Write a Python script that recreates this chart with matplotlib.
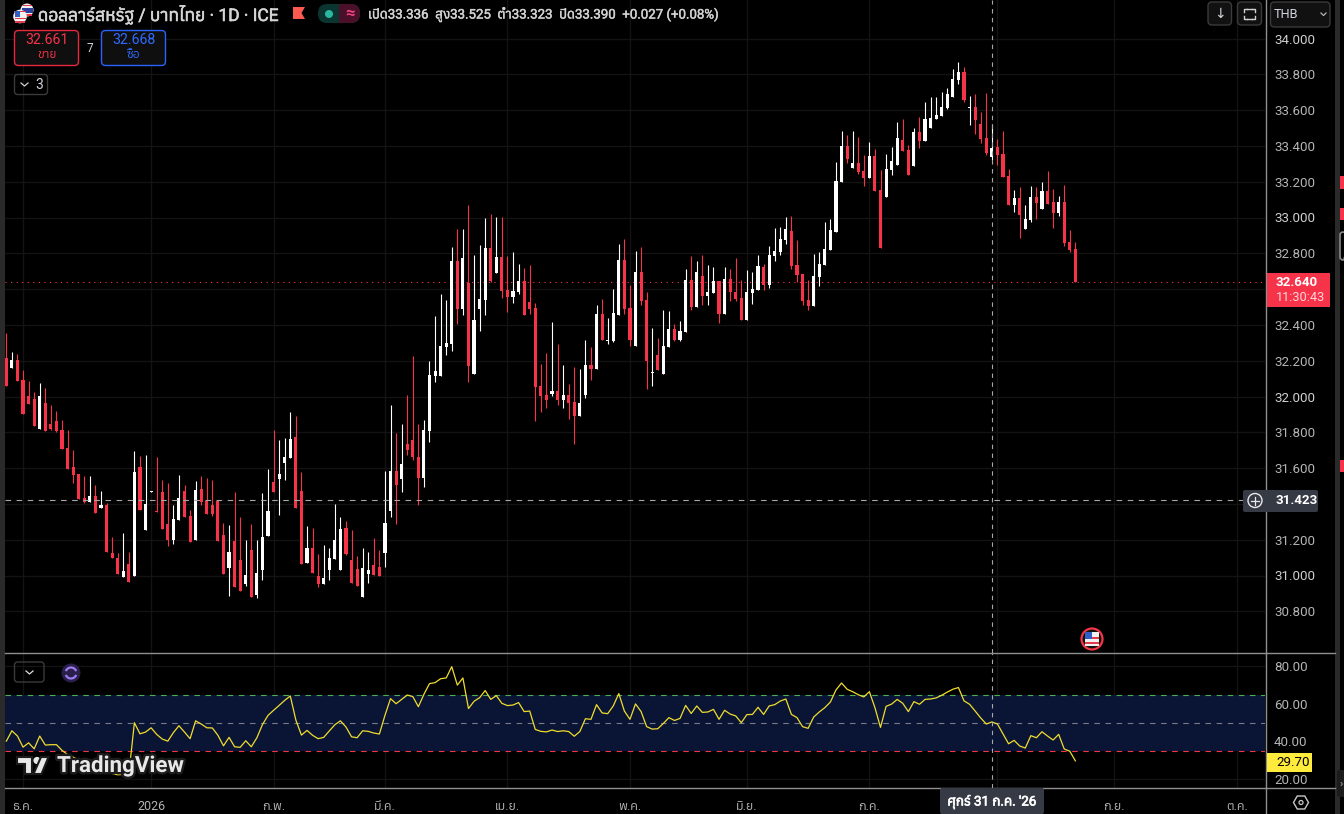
# USD/THB daily chart with RSI pane
import numpy as np
import matplotlib
matplotlib.use("Agg")
import matplotlib.pyplot as plt
import matplotlib.patches as patches
import matplotlib.patheffects as pe
from matplotlib import font_manager

# DATA
opens = [32.214,32.158,32.203,32.091,32.002,31.985,31.817,31.963,31.845,31.862,
         31.812,31.711,31.605,31.566,31.432,31.410,31.443,31.376,31.393,31.125,
         31.097,30.991,31.063,30.996,31.605,31.253,31.466,31.359,31.466,31.287,
         31.197,31.309,31.471,31.331,31.197,31.482,31.415,31.393,31.415,31.225,
         31.041,31.192,31.086,30.952,31.141,30.890,31.030,31.220,31.521,31.538,
         31.627,31.655,31.772,31.471,31.069,31.152,30.996,30.951,31.029,31.091,
         31.029,31.264,31.085,31.035,30.879,31.007,31.057,31.046,31.124,31.359,
         31.582,31.538,31.733,31.756,31.661,31.543,31.806,32.113,32.113,32.275,
         32.292,32.756,32.487,32.633,32.124,32.487,32.538,32.828,32.689,32.778,
         32.594,32.555,32.582,32.644,32.527,32.493,32.057,32.007,32.013,32.029,
         31.979,32.007,31.968,31.890,32.007,32.175,32.152,32.460,32.309,32.309,
         32.454,32.761,32.493,32.281,32.694,32.538,32.130,32.230,32.124,32.275,
         32.376,32.314,32.359,32.649,32.499,32.672,32.560,32.577,32.644,32.460,
         32.655,32.582,32.549,32.426,32.577,32.594,32.722,32.622,32.784,32.806,
         32.873,32.923,32.733,32.683,32.538,32.504,32.666,32.733,32.817,32.918,
         33.197,33.398,33.275,33.303,33.258,33.219,33.342,33.152,33.113,33.264,
         33.292,33.432,33.376,33.286,33.476,33.426,33.499,33.549,33.566,33.610,
         33.672,33.767,33.812,33.610,33.616,33.521,33.443,33.336,33.393,33.353,
         33.230,33.068,33.108,32.934,32.985,33.113,33.046,33.147,33.085,33.024,
         33.085,32.862,32.823]
highs = [32.354,32.248,32.236,32.147,32.086,32.024,32.074,32.047,31.952,31.918,
         31.868,31.812,31.700,31.566,31.555,31.555,31.505,31.471,31.404,31.214,
         31.125,31.236,31.130,31.695,31.667,31.672,31.471,31.661,31.533,31.516,
         31.393,31.560,31.505,31.365,31.527,31.555,31.544,31.533,31.421,31.292,
         31.281,31.466,31.326,31.197,31.287,31.197,31.460,31.594,31.812,31.756,
         31.767,31.912,31.890,31.577,31.275,31.264,31.119,31.169,31.152,31.398,
         31.326,31.303,31.253,31.108,31.152,31.130,31.208,31.141,31.582,31.951,
         31.795,31.845,32.007,32.225,31.845,31.867,32.197,32.448,32.571,32.538,
         32.834,32.934,32.934,33.068,32.789,32.845,32.996,33.018,33.001,33.001,
         32.784,32.806,32.739,32.717,32.733,32.521,32.180,32.242,32.415,32.292,
         32.175,32.068,32.163,32.152,32.314,32.275,32.510,32.543,32.437,32.599,
         32.851,32.879,32.622,32.812,32.834,32.582,32.381,32.325,32.482,32.476,
         32.404,32.420,32.711,32.784,32.756,32.789,32.733,32.722,32.644,32.722,
         32.711,32.772,32.649,32.705,32.694,32.789,32.739,32.839,32.940,32.946,
         33.001,33.007,32.873,32.683,32.649,32.795,32.806,32.974,32.990,33.309,
         33.482,33.460,33.482,33.448,33.348,33.420,33.381,33.264,33.353,33.393,
         33.532,33.549,33.404,33.499,33.560,33.644,33.672,33.672,33.700,33.722,
         33.828,33.867,33.839,33.677,33.689,33.588,33.694,33.525,33.437,33.482,
         33.270,33.152,33.169,33.068,33.175,33.169,33.197,33.258,33.158,33.119,
         33.180,32.929,32.862]
lows = [32.058,32.158,32.086,31.901,31.957,31.834,31.817,31.806,31.812,31.801,
        31.706,31.594,31.516,31.426,31.404,31.410,31.348,31.376,31.130,31.097,
        31.007,30.991,30.963,30.996,31.365,31.253,31.466,31.354,31.259,31.164,
        31.175,31.309,31.326,31.186,31.197,31.393,31.343,31.331,31.192,31.007,
        30.885,30.935,30.912,30.940,30.879,30.873,30.974,31.220,31.465,31.337,
        31.532,31.655,31.376,31.063,31.069,31.013,30.934,30.951,30.973,31.091,
        31.029,31.113,30.957,30.940,30.879,30.957,31.001,30.996,31.046,31.326,
        31.286,31.465,31.672,31.644,31.393,31.493,31.744,32.080,32.113,32.230,
        32.253,32.404,32.454,32.080,32.124,32.365,32.454,32.638,32.689,32.549,
        32.471,32.521,32.571,32.454,32.460,31.862,31.912,31.934,32.001,31.951,
        31.934,31.873,31.733,31.890,31.990,32.091,32.152,32.314,32.292,32.303,
        32.454,32.460,32.281,32.281,32.510,32.041,32.057,32.147,32.124,32.275,
        32.309,32.309,32.359,32.482,32.499,32.510,32.510,32.577,32.409,32.460,
        32.532,32.532,32.426,32.426,32.515,32.594,32.594,32.605,32.756,32.789,
        32.851,32.711,32.638,32.510,32.482,32.504,32.616,32.733,32.817,32.918,
        33.197,33.303,33.275,33.242,33.175,33.219,33.147,32.828,33.113,33.236,
        33.292,33.370,33.236,33.286,33.387,33.426,33.499,33.549,33.566,33.605,
        33.672,33.744,33.644,33.515,33.465,33.415,33.348,33.323,33.292,33.225,
        33.068,33.029,32.884,32.934,32.974,32.990,33.046,33.074,32.940,33.007,
        32.839,32.806,32.640]
closes = [32.058,32.203,32.086,31.901,31.957,31.834,32.002,31.806,31.817,31.806,
          31.706,31.594,31.560,31.426,31.410,31.443,31.348,31.393,31.130,31.097,
          31.007,31.024,30.963,31.577,31.365,31.398,31.471,31.354,31.259,31.197,
          31.315,31.432,31.326,31.186,31.477,31.410,31.343,31.343,31.192,31.007,
          31.130,30.935,30.912,31.002,30.879,31.013,31.214,31.359,31.465,31.566,
          31.661,31.761,31.376,31.063,31.152,31.013,30.951,30.985,31.096,31.197,
          31.258,31.119,30.957,30.940,31.041,31.029,31.001,30.996,31.292,31.582,
          31.504,31.622,31.700,31.661,31.543,31.811,32.119,32.141,32.281,32.298,
          32.756,32.487,32.772,32.169,32.426,32.543,32.828,32.644,32.778,32.588,
          32.555,32.588,32.644,32.454,32.487,32.052,32.001,31.979,32.029,31.979,
          32.007,31.962,31.890,31.962,32.175,32.152,32.460,32.314,32.314,32.465,
          32.761,32.487,32.314,32.694,32.532,32.197,32.136,32.147,32.281,32.376,
          32.314,32.365,32.649,32.499,32.694,32.560,32.582,32.644,32.460,32.655,
          32.582,32.543,32.426,32.582,32.599,32.728,32.622,32.789,32.811,32.879,
          32.934,32.728,32.677,32.532,32.504,32.672,32.739,32.823,32.929,33.203,
          33.398,33.325,33.303,33.253,33.219,33.342,33.147,32.828,33.270,33.314,
          33.443,33.370,33.236,33.476,33.426,33.549,33.555,33.571,33.616,33.689,
          33.772,33.812,33.655,33.616,33.543,33.437,33.359,33.390,33.348,33.225,
          33.068,33.108,33.013,32.990,33.113,33.080,33.147,33.074,33.024,33.085,
          32.856,32.817,32.640]
rsi = [40.2,45.7,42.9,37.0,39.3,36.1,42.9,38.1,38.3,38.3,
       35.3,33.0,31.7,30.1,30.0,30.1,28.7,29.0,25.0,23.0,
       22.3,22.5,22.5,50.0,44.1,45.0,47.3,43.8,41.3,40.2,
       44.7,48.4,45.0,41.5,51.0,49.3,47.3,47.2,43.3,37.7,
       42.2,37.2,36.9,40.4,37.2,42.0,49.0,53.9,56.6,59.2,
       61.9,64.2,51.4,43.4,45.9,43.3,41.5,42.2,45.6,48.9,
       51.0,47.7,42.5,42.0,45.7,45.4,44.5,44.0,53.9,62.8,
       60.1,62.4,64.7,63.9,58.5,65.1,70.8,71.3,73.4,73.8,
       79.8,70.0,73.8,57.5,61.4,63.3,67.1,62.4,64.4,60.3,
       59.1,59.4,60.7,55.9,56.2,46.4,45.4,45.1,46.1,45.3,
       45.7,45.3,42.8,45.3,52.1,51.8,59.6,55.2,54.8,58.9,
       65.5,56.2,51.8,60.0,55.9,47.9,46.6,46.8,49.6,52.7,
       51.2,52.3,59.2,54.9,58.9,55.5,55.7,57.1,51.8,56.6,
       54.6,53.6,50.0,54.3,54.4,58.2,54.4,58.9,59.6,61.5,
       62.6,54.4,52.7,47.9,47.0,53.0,55.7,58.0,61.0,67.4,
       71.1,67.8,66.5,64.9,63.7,66.5,58.0,47.5,58.7,59.9,
       62.4,60.3,55.9,61.2,59.8,62.4,62.6,63.2,64.6,66.3,
       67.8,68.7,61.6,59.8,56.2,52.5,49.3,50.4,49.3,44.0,
       38.8,40.6,37.6,36.5,43.1,42.0,45.2,42.9,40.8,43.8,
       36.0,34.8,29.7]
month_pos = [3, 26, 48, 68, 90, 112, 133, 155, 178, 199, 221]
# the August label sits behind the date tag in the reference
month_labels = ["ธ.ค.", "2026", "ก.พ.", "มี.ค.", "เม.ย.", "พ.ค.", "มิ.ย.", "ก.ค.", "", "ก.ย.", "ต.ค."]
price_ticks = [30.8, 31.0, 31.2, 31.4, 31.6, 31.8, 32.0, 32.2, 32.4, 32.6,
               32.8, 33.0, 33.2, 33.4, 33.6, 33.8, 34.0]
hidden_ticks = [31.4, 32.6]  # covered by the price and crosshair tags
rsi_ticks = [20, 40, 60, 80]
last_price = 32.640
cross_price = 31.423
cross_index = 177

RED = "#f7334a"
GREY = "#b4b4b4"
GRID = "#131313"
LINE = "#8f8f8f"
W, H = 1344, 814

# Thai needs a font that really has the glyphs, if there is one
thai_fonts = []
for entry in font_manager.fontManager.ttflist:
    try:
        if 0x0E01 in font_manager.get_font(entry.fname).get_charmap():
            thai_fonts.append(entry.name)
    except Exception:
        pass
plt.rcParams["font.family"] = ["Roboto"] + sorted(set(thai_fonts))[:1] + ["DejaVu Sans"]

fig = plt.figure(figsize=(W / 100, H / 100), dpi=100, facecolor="black")


def pane(left, top, right, bottom):
    return fig.add_axes([left / W, 1 - bottom / H, (right - left) / W, (bottom - top) / H], facecolor="black")


ax = pane(5, 0, 1265, 653)
ax_rsi = pane(5, 653, 1265, 788)
xmin = (5 - 6.33) / 5.568
xmax = (1265 - 6.33) / 5.568
x = np.arange(len(opens))
o = np.array(opens)
c = np.array(closes)
colors = ["white" if c[i] >= o[i] else RED for i in x]

# Candles
ax.vlines(x, lows, highs, colors=colors, linewidth=0.8, zorder=3)
ax.bar(x, np.maximum(np.abs(c - o), 0.006), bottom=np.minimum(o, c), width=0.56, color=colors, linewidth=0, zorder=4)
ax.axhline(last_price, color=RED, linestyle=(0, (1, 4)), linewidth=0.8, zorder=2)
ax.axhline(cross_price, color="#a8a8a8", linestyle=(0, (5, 5)), linewidth=0.8, zorder=5)
ax.set_xlim(xmin, xmax)
ax.set_ylim(33 - (653 - 217.5) / 179, 33 + 217.5 / 179)
ax.set_yticks(price_ticks)
ax.set_yticklabels(["" if t in hidden_ticks else f"{t:.3f}" for t in price_ticks])
ax.set_xticks(month_pos)
ax.tick_params(axis="x", labelbottom=False, length=0)

# RSI pane
ax_rsi.axhspan(35, 65, color="#0a1535", linewidth=0, zorder=1)
ax_rsi.axhline(65, color="#4caf50", linestyle=(0, (5, 5)), linewidth=0.8, zorder=2)
ax_rsi.axhline(50, color="#787b86", linestyle=(0, (5, 5)), linewidth=0.8, zorder=2)
ax_rsi.axhline(35, color="#f23645", linestyle=(0, (5, 5)), linewidth=0.8, zorder=2)
ax_rsi.plot(x, rsi, color="#f0dc2d", linewidth=0.9, zorder=3)
ax_rsi.set_xlim(xmin, xmax)
ax_rsi.set_ylim(50 - (788 - 722.7) / 1.88, 50 + (722.7 - 653) / 1.88)
ax_rsi.set_yticks(rsi_ticks)
ax_rsi.set_yticklabels([f"{t:.2f}" for t in rsi_ticks])
ax_rsi.set_xticks(month_pos)
ax_rsi.set_xticklabels(month_labels)

for a in (ax, ax_rsi):
    for s in a.spines.values():
        s.set_visible(False)
    a.yaxis.tick_right()
    a.grid(True, color=GRID, linewidth=1, zorder=0)
    a.set_axisbelow(True)
    a.tick_params(axis="y", length=0, pad=6.5, labelcolor=GREY, labelsize=9.6)
    a.axvline(cross_index, color="#a8a8a8", linestyle=(0, (4, 4)), linewidth=0.8, zorder=5)
ax_rsi.tick_params(axis="x", length=0, pad=9, labelcolor=GREY, labelsize=9)
for t, label in zip(price_ticks, ax.get_yticklabels()):
    if t == int(t):
        label.set_color("#cfcfcf")

# Overlay in screen pixels for the platform chrome
ui = fig.add_axes([0, 0, 1, 1], facecolor="none", zorder=10)
ui.set_xlim(0, W)
ui.set_ylim(H, 0)
ui.axis("off")


def rect(x0, y0, x1, y1, face="none", edge="none", lw=1.0, round_px=0, z=2):
    if round_px:
        p = patches.FancyBboxPatch((x0 + round_px, y0 + round_px), x1 - x0 - 2 * round_px, y1 - y0 - 2 * round_px,
                                   boxstyle=f"round,pad={round_px},rounding_size={round_px}",
                                   facecolor=face, edgecolor=edge, linewidth=lw, zorder=z)
    else:
        p = patches.Rectangle((x0, y0), x1 - x0, y1 - y0, facecolor=face, edgecolor=edge, linewidth=lw, zorder=z)
    ui.add_patch(p)


def txt(px, py, s, size=9, color="#d1d4dc", ha="left", weight="normal", **kw):
    return ui.text(px, py, s, fontsize=size, color=color, ha=ha, va="center", weight=weight, zorder=6, **kw)


def circle(px, py, r, face, edge="none", lw=1.0, z=3):
    ui.add_patch(patches.Circle((px, py), r, facecolor=face, edgecolor=edge, linewidth=lw, zorder=z))


# Frame
rect(0, 0, 5, H, face="#2a2a2a")
rect(1335, 0, 1340, H, face="#2a2a2a")
ui.plot([5, 1335], [652.8, 652.8], color=LINE, lw=1)
ui.plot([5, 1335], [787.8, 787.8], color=LINE, lw=1)
ui.plot([1266, 1266], [0, H], color=LINE, lw=1)
for y0, y1 in [(176, 189), (208, 220), (460, 472)]:
    rect(1340, y0, 1344, y1, face=RED)
rect(1340, 232, 1346, 260, edge="#8a8a8a", lw=1.2, round_px=3)
rect(1337, 770, 1347, 797, face="#1c1c1c", round_px=3)
txt(1340, 784, "›", size=8, color="#b4b4b4")

# Header
circle(27, 10, 6.5, "#f2f2f2")
rect(21.5, 8, 32.5, 12.5, face="#2b3f9e", z=4)
rect(22.5, 4.5, 31.5, 6, face="#e53950", z=4)
rect(22.5, 14, 31.5, 15.5, face="#e53950", z=4)
circle(20, 16.5, 6.8, "#f2f2f2", z=5)
rect(14, 10.5, 26, 12, face="#e53950", z=6)
rect(14.5, 17.5, 25.5, 19, face="#e53950", z=6)
rect(15, 21, 25, 22.5, face="#e53950", z=6)
rect(14.5, 11, 20, 16.5, face="#2f5fc4", z=7)
thick = [pe.withStroke(linewidth=0.4, foreground="#d5d5d5")]
txt(38, 14.5, "ดอลลาร์สหรัฐ / บาทไทย · 1D · ICE", size=12.5, color="#d5d5d5", path_effects=thick)
ui.add_patch(patches.Polygon([(293, 7), (305, 7), (301.5, 13), (305, 19), (293, 19)], facecolor="#ff5a52", zorder=4))
rect(318, 4, 360, 23, face="#0a3531", round_px=9)
rect(339, 4, 360, 23, face="#4a1029", round_px=9)
rect(339, 4, 349, 23, face="#4a1029")
circle(329, 14, 4, "#2bb8a0", z=5)
txt(349.5, 13.5, "≈", size=12, color="#f0447e", ha="center", weight="bold")
txt(368, 14.5, "เปิด33.336  สูง33.525  ต่ำ33.323  ปิด33.390  +0.027 (+0.08%)", size=9.55, color="#d1d1d1",
    path_effects=[pe.withStroke(linewidth=0.3, foreground="#d1d1d1")])

# Buy and sell boxes
rect(14.5, 30.5, 78.5, 65.5, face="#0f0f0f", edge="#e5283f", lw=1, round_px=4)
rect(101.5, 30.5, 165.5, 65.5, face="#0f0f0f", edge="#2962ff", lw=1, round_px=4)
txt(46.5, 40, "32.661", size=10.2, color="#f7334a", ha="center")
txt(46.5, 55, "ขาย", size=8.6, color="#f7334a", ha="center")
txt(133.5, 40, "32.668", size=10.2, color="#2f6bff", ha="center")
txt(133.5, 55, "ซื้อ", size=8.6, color="#2f6bff", ha="center")
txt(90, 48, "7", size=8.5, ha="center")
rect(14.5, 74.5, 47.5, 94.5, edge="#3a3a3a", lw=1, round_px=3)
ui.plot([21, 24.5, 28], [83, 86, 83], color="#d1d1d1", lw=0.9)
txt(39, 85, "3", size=10, ha="center")

# Top right buttons
rect(1208, 2, 1231.5, 25, face="#111111", edge="#3a3a3a", lw=1, round_px=4)
txt(1220, 14, "↓", size=10, ha="center", family="DejaVu Sans")
rect(1237.5, 2, 1261.5, 25, face="#111111", edge="#3a3a3a", lw=1, round_px=4)
for corner_x, corner_y, dx, dy in [(1244, 9, 1, 1), (1255, 9, -1, 1), (1244, 19, 1, -1), (1255, 19, -1, -1)]:
    ui.plot([corner_x, corner_x, corner_x + 3 * dx], [corner_y + 3 * dy, corner_y, corner_y], color="#d1d1d1", lw=1, zorder=4)
ui.plot([1247, 1252], [8.6, 8.6], color="#d1d1d1", lw=1, zorder=4)
ui.plot([1247, 1252], [19.4, 19.4], color="#d1d1d1", lw=1, zorder=4)
rect(1270.5, 2, 1330, 27, face="#111111", edge="#3a3a3a", lw=1, round_px=4)
txt(1274, 14, "THB", size=9.2, color="#d1d4dc")
ui.plot([1321, 1323.5, 1326], [13, 15.5, 13], color="#b4b4b4", lw=0.9)

# Price tag, crosshair tag
rect(1267, 273, 1330, 307, face=RED)
txt(1276, 283, "32.640", size=9.6, color="white", weight="bold", family="Roboto")
txt(1276, 297.5, "11:30:43", size=9.2, color="#ffd6db")
rect(1243, 490, 1318, 512, face="#363a45", round_px=2)
txt(1276, 500.5, "31.423", size=9.6, color="white", weight="bold", family="Roboto")
circle(1255, 500.5, 7, "none", edge="#e8e8e8", lw=1.0)
ui.plot([1251, 1259], [500.5, 500.5], color="#e8e8e8", lw=0.9, zorder=4)
ui.plot([1255, 1255], [496.5, 504.5], color="#e8e8e8", lw=0.9, zorder=4)

# RSI pane chrome
rect(1267, 753, 1312, 772, face="#ffeb3b")
txt(1276, 762.5, "29.70", size=9.6, color="black")
rect(14.5, 662, 44, 682, edge="#3a3a3a", lw=1, round_px=3)
ui.plot([26, 29.5, 33], [671, 674, 671], color="#e0e0e0", lw=0.9)
circle(71, 673, 9.5, "#2a1f4a")
ui.add_patch(patches.Arc((71, 673), 11, 11, theta1=20, theta2=160, edgecolor="#9a7bf0", linewidth=1.6, zorder=4))
ui.add_patch(patches.Arc((71, 673), 11, 11, theta1=200, theta2=340, edgecolor="#9a7bf0", linewidth=1.6, zorder=4))

# Date tag and settings
rect(940, 788, 1044, 814, face="#363a45", round_px=2)
txt(992, 802, "ศุกร์ 31 ก.ค. '26", size=9.6, color="white", ha="center",
    path_effects=[pe.withStroke(linewidth=0.5, foreground="white")])
ui.add_patch(patches.RegularPolygon((1301, 802.5), 6, radius=7.5, orientation=np.pi / 2, facecolor="none", edgecolor="#c8c8c8", linewidth=1, zorder=3))
circle(1301, 802.5, 2, "none", edge="#c8c8c8", lw=0.9)

# Event flag
circle(1092, 639, 10.5, "#111111", edge="#f23645", lw=1.6)
rect(1085, 632, 1099, 646, face="#f0f0f0", z=4)
rect(1085, 637, 1099, 639, face="#e53950", z=5)
rect(1085, 642, 1099, 644, face="#e53950", z=5)
rect(1085, 632, 1092, 639, face="#2f5fc4", z=6)

# Logo
logo_fx = [pe.withStroke(linewidth=3.5, foreground="#1c1c1c")]
ui.add_patch(patches.Polygon([(17, 757), (32, 757), (32, 774), (25, 774), (25, 764), (17, 764)], facecolor="#e8e8e8",
                             edgecolor="#1c1c1c", linewidth=1.5, zorder=5))
circle(37, 760.5, 3.6, "#e8e8e8", z=5)
ui.add_patch(patches.Polygon([(33.5, 774), (41, 757), (48.5, 757), (41.5, 774)], facecolor="#e8e8e8",
                             edgecolor="#1c1c1c", linewidth=1.5, zorder=5))
txt(57, 766, "TradingView", size=16.1, color="#e8e8e8", weight="bold", family="Roboto", path_effects=logo_fx)

fig.savefig("out.png", dpi=100, facecolor="black")
